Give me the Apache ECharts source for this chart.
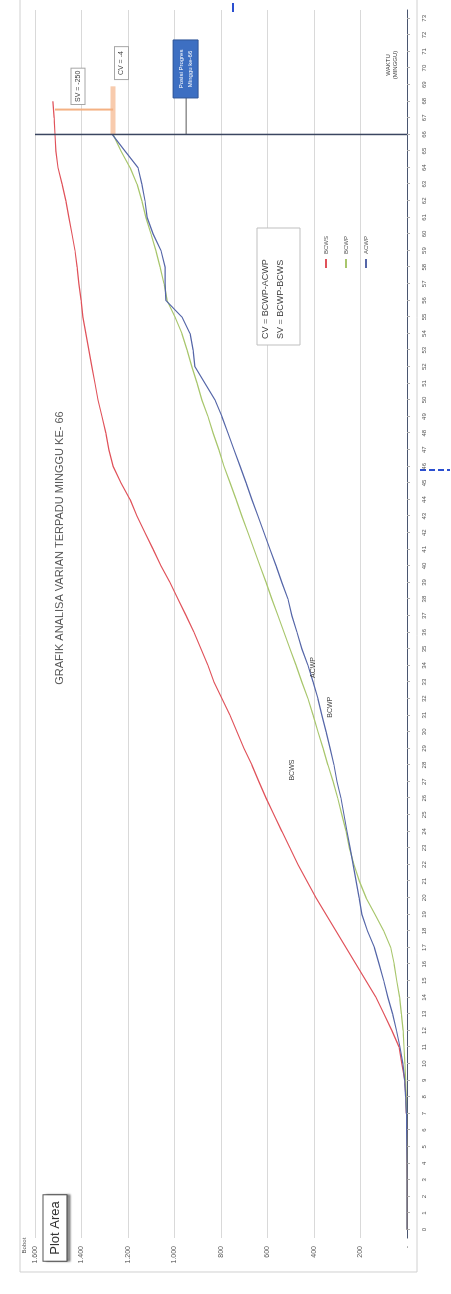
<!DOCTYPE html>
<html>
<head>
<meta charset="utf-8">
<script src="https://cdn.jsdelivr.net/npm/echarts@6/dist/echarts.min.js"></script>
<style>
  html, body { margin: 0; padding: 0; background: #fff; overflow: hidden; width: 451px; height: 1294px; }
  /* the chart is laid out landscape and turned a quarter turn to stand upright */
  #chart { position: absolute; left: 0; top: 0; width: 1294px; height: 451px;
           transform-origin: 0 0; transform: translate(0, 1294px) rotate(-90deg); }
</style>
</head>
<body>
<div id="chart"></div>
<script>
// week numbers on the time axis
const weeks = ['0','1','2','3','4','5','6','7','8','9','10','11','12','13','14','15','16','17','18','19',
  '20','21','22','23','24','25','26','27','28','29','30','31','32','33','34','35','36','37','38','39',
  '40','41','42','43','44','45','46','47','48','49','50','51','52','53','54','55','56','57','58','59',
  '60','61','62','63','64','65','66','67','68','69','70','71','72','73'];

// cumulative values per week
const bcws = [0,0,0,0,1,1,2,3,5,9, 22,34,65,99,133,176,219,262,305,348,
  391,430,469,503,538,572,606,637,667,701, 731,761,796,830,856,886,916,950,985,1019,
  1058,1092,1127,1161,1191,1230,1264,1282,1295,1312, 1329,1342,1355,1368,1381,1394,1402,1411,1419,1428,
  1441,1454,1467,1483,1501,1510,1514,1518,1523];
const bcwp = [0,0,0,0,0,0,1,2,4,6, 9,13,17,24,32,44,55,70,100,138,
  176,205,228,248,262,280,298,318,340,361, 383,404,426,452,477,503,529,555,581,606,
  632,658,684,710,735,761,787,809,834,856, 882,903,925,946,968,998,1032,1045,1062,1080,
  1101,1123,1140,1161,1191,1230,1264];
const acwp = [0,0,0,0,0,1,2,3,6,10, 18,30,45,62,82,100,120,140,170,194,
  206,219,232,245,258,271,284,301,314,331, 348,366,383,404,426,452,473,495,512,538,
  563,589,615,641,667,692,718,744,770,796, 826,869,912,920,933,968,1037,1040,1040,1058,
  1092,1118,1127,1140,1157,1213,1268];

// value axis
const valueMin = 0, valueMax = 1600, valueStep = 200;

const reportWeek = 66;
const sv = bcwp[reportWeek] - bcws[reportWeek];
const cv = bcwp[reportWeek] - acwp[reportWeek];

const FONT = 'Liberation Sans, Arial, sans-serif';
const fmt = v => v === 0 ? '-' : String(v).replace(/\B(?=(\d{3})+(?!\d))/g, '.');

// a name tag sitting beside one point of a curve
function tag(name, arr, idx, offset) {
  return {
    symbol: 'circle', symbolSize: 0, silent: true,
    data: [{ coord: [idx, arr[idx]], value: name }],
    label: { show: true, formatter: name, position: 'inside', offset: offset,
             fontSize: 7, color: '#404040', fontFamily: FONT }
  };
}

const chart = echarts.init(document.getElementById('chart'), null, { renderer: 'canvas' });

const option = {
  animation: false,
  backgroundColor: '#fff',
  textStyle: { fontFamily: FONT },
  grid: { left: 56, right: 10, top: 35, bottom: 44 },
  legend: {
    orient: 'vertical', left: 1021, top: 318, itemWidth: 9, itemHeight: 2, itemGap: 14,
    icon: 'rect', data: ['BCWS', 'BCWP', 'ACWP'],
    textStyle: { fontSize: 6, color: '#595959', fontFamily: FONT }
  },
  xAxis: [
    {
      type: 'category', data: weeks, boundaryGap: true,
      axisLine: { lineStyle: { color: '#4a5670', width: 1.2 } },
      axisTick: { show: true, alignWithLabel: true, length: 3, lineStyle: { color: '#b0b0b0' } },
      axisLabel: { interval: 0, fontSize: 6, color: '#595959', margin: 14 },
      splitLine: { show: false }
    },
    { type: 'value', min: -0.5, max: weeks.length - 0.5, show: false }
  ],
  yAxis: {
    type: 'value', min: valueMin, max: valueMax, interval: valueStep,
    name: 'Bobot', nameLocation: 'end', nameGap: 8,
    nameTextStyle: { fontSize: 6, color: '#595959', align: 'right', padding: [0, 8, 0, 0] },
    axisLine: { show: false }, axisTick: { show: false },
    axisLabel: { fontSize: 7, color: '#595959', margin: 8, formatter: fmt },
    splitLine: { lineStyle: { color: '#d9d9d9', width: 1 } }
  },
  series: [
    { name: 'BCWS', type: 'line', data: bcws, showSymbol: false, symbol: 'none',
      lineStyle: { color: '#e0525a', width: 1.2 }, itemStyle: { color: '#e0525a' }, z: 3,
      markPoint: tag('BCWS', bcws, 28, [-5, 40]) },
    { name: 'BCWP', type: 'line', data: bcwp, showSymbol: false, symbol: 'none',
      lineStyle: { color: '#a8c66c', width: 1.2 }, itemStyle: { color: '#a8c66c' }, z: 3,
      markPoint: tag('BCWP', bcwp, 31, [8, 17]) },
    { name: 'ACWP', type: 'line', data: acwp, showSymbol: false, symbol: 'none',
      lineStyle: { color: '#5566a8', width: 1.2 }, itemStyle: { color: '#5566a8' }, z: 4,
      markPoint: tag('ACWP', acwp, 34, [-2, 5]) },
    // report-week marker
    { name: 'week', type: 'line', xAxisIndex: 1, symbol: 'none', silent: true,
      data: [[reportWeek, valueMin], [reportWeek, valueMax]],
      lineStyle: { color: '#3b4660', width: 1.5 }, z: 5 },
    // schedule variance bracket
    { name: 'svCap', type: 'line', xAxisIndex: 1, symbol: 'none', silent: true,
      data: [[reportWeek, bcwp[reportWeek]], [68.9, bcwp[reportWeek]]],
      lineStyle: { color: '#f8cbad', width: 5 }, z: 2 },
    { name: 'svBar', type: 'line', xAxisIndex: 1, symbol: 'none', silent: true,
      data: [[67.5, bcws[reportWeek]], [67.5, bcwp[reportWeek]]],
      lineStyle: { color: '#f4b183', width: 2 }, z: 2 }
  ]
};
chart.setOption(option);

const px = (w, v) => chart.convertToPixel({ xAxisIndex: 1, yAxisIndex: 0 }, [w, v]);
const wk = px(reportWeek, 0)[0];
const boxTL = px(68.2, 1006);
const boxMidY = px(0, 950)[1];
const svC = px(68.9, 1415);
const cvC = px(70.3, 1228);

chart.setOption({
  graphic: [
    { type: 'rect', z: -1, silent: true, shape: { x: 22, y: 20, width: 1277, height: 397 },
      style: { fill: 'none', stroke: '#d0d0d0', lineWidth: 1 } },
    { type: 'text', x: 746, y: 60, silent: true,
      style: { text: 'GRAFIK ANALISA VARIAN TERPADU MINGGU KE- 66', fontSize: 11, fill: '#595959',
               fontFamily: FONT, textAlign: 'center', textVerticalAlign: 'middle' } },
    // formula box
    { type: 'rect', silent: true, shape: { x: 949, y: 257, width: 117, height: 43 },
      style: { fill: '#fff', stroke: '#bfbfbf', lineWidth: 1 } },
    { type: 'text', x: 955, y: 266, silent: true,
      style: { text: 'CV = BCWP-ACWP', fontSize: 9, fill: '#404040', fontFamily: FONT, textVerticalAlign: 'middle' } },
    { type: 'text', x: 955, y: 281, silent: true,
      style: { text: 'SV = BCWP-BCWS', fontSize: 9, fill: '#404040', fontFamily: FONT, textVerticalAlign: 'middle' } },
    // report week callout
    { type: 'line', silent: true, shape: { x1: wk, y1: boxMidY, x2: boxTL[0], y2: boxMidY },
      style: { stroke: '#595959', lineWidth: 1 } },
    { type: 'rect', silent: true, shape: { x: boxTL[0], y: boxTL[1], width: 58, height: 25 },
      style: { fill: '#3d6fc2', stroke: '#2f5597', lineWidth: 1 } },
    { type: 'text', x: boxTL[0] + 29, y: boxTL[1] + 12.5, silent: true,
      style: { text: 'Posisi Progres\nMinggu ke-66', fontSize: 6, lineHeight: 9, fill: '#fff', fontFamily: FONT,
               textAlign: 'center', textVerticalAlign: 'middle' } },
    // variance labels
    { type: 'text', x: svC[0], y: svC[1], silent: true,
      style: { text: 'SV = ' + fmt(sv), fontSize: 7, fill: '#404040', fontFamily: FONT, textAlign: 'center',
               textVerticalAlign: 'middle', backgroundColor: '#fff', borderColor: '#a6a6a6', borderWidth: 1, padding: [3, 2] } },
    { type: 'text', x: cvC[0], y: cvC[1], silent: true,
      style: { text: 'CV = ' + fmt(cv), fontSize: 7, fill: '#404040', fontFamily: FONT, textAlign: 'center',
               textVerticalAlign: 'middle', backgroundColor: '#fff', borderColor: '#a6a6a6', borderWidth: 1, padding: [3, 4] } },
    // axis title
    { type: 'text', x: 1229, y: 392, silent: true,
      style: { text: 'WAKTU\n(MINGGU)', fontSize: 6, lineHeight: 7, fill: '#404040', fontFamily: FONT,
               textAlign: 'center', textVerticalAlign: 'middle' } },
    // hover tip
    { type: 'text', x: 66, y: 55, silent: true,
      style: { text: 'Plot Area', fontSize: 13, fill: '#333', fontFamily: FONT, textAlign: 'center', textVerticalAlign: 'middle',
               backgroundColor: '#fff', borderColor: '#555', borderWidth: 1, padding: [5, 6],
               shadowColor: 'rgba(0,0,0,0.35)', shadowOffsetY: 3, shadowBlur: 2 } },
    // selection handles
    { type: 'line', silent: true, shape: { x1: 1282, y1: 233, x2: 1291, y2: 233 },
      style: { stroke: '#2b4fd0', lineWidth: 2 } },
    { type: 'line', silent: true, shape: { x1: 824, y1: 420, x2: 824, y2: 450 },
      style: { stroke: '#2b4fd0', lineWidth: 2, lineDash: [6, 3] } }
  ]
});
</script>
</body>
</html>
